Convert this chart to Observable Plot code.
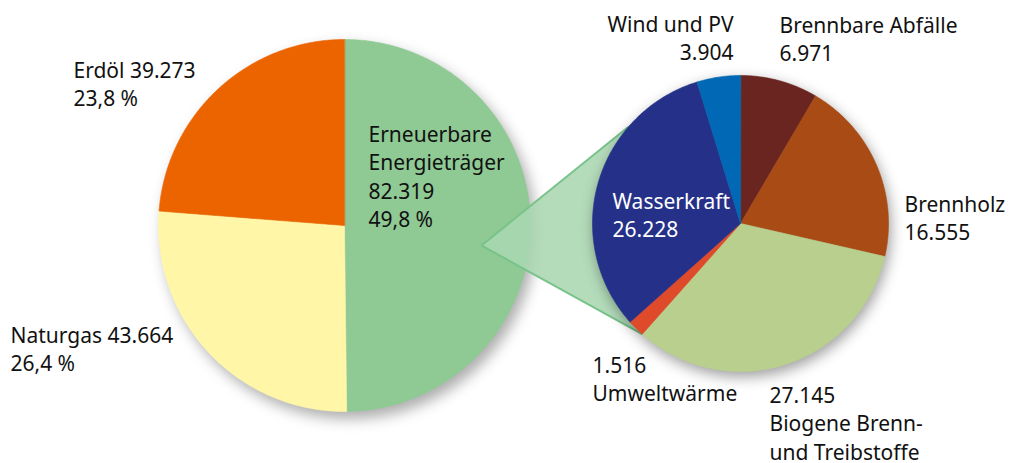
<!DOCTYPE html>
<html><head><meta charset="utf-8">
<script src="https://cdn.jsdelivr.net/npm/d3@7"></script>
<script src="https://cdn.jsdelivr.net/npm/@observablehq/plot@0.6"></script>
<style>
html,body{margin:0;padding:0;background:#fff;}
#chart svg{display:block;}
</style></head><body><div id="chart"></div>
<script>
// ---- data ----
const mainCategories = ["Erneuerbare Energieträger", "Naturgas", "Erdöl"];
const mainLabelNames = ["Erneuerbare\nEnergieträger", "Naturgas", "Erdöl"];
const mainValues = [82319, 43664, 39273];
const mainColors = ["#8fc994", "#fff6a8", "#ec6400"];

const renewCategories = ["Brennbare Abfälle", "Brennholz", "Biogene Brenn- und Treibstoffe", "Umweltwärme", "Wasserkraft", "Wind und PV"];
const renewLabelNames = ["Brennbare Abfälle", "Brennholz", "Biogene Brenn-\nund Treibstoffe", "Umweltwärme", "Wasserkraft", "Wind und PV"];
const renewValues = [6971, 16555, 27145, 1516, 26228, 3904];
const renewColors = ["#6b2520", "#a84b14", "#b8cf8e", "#de4a2a", "#253189", "#0068b4"];

// ---- layout ----
const W = 1009, H = 463;
const leftPie = {cx: 344, cy: 225, r: 186};
const rightPie = {cx: 740, cy: 223, r: 148};
const apex = {x: 481, y: 245};
const connectorUpperAngleDeg = 311;
const FS = 21, LH = 28.5, BASE_SHIFT = 6;
const FONT = "Noto Sans";
// label layout: key -> x, first baseline, anchor, arrangement, colour
const labelLayout = [
  {cat: "Erdöl", x: 73, b: 78, anchor: "start", mode: "nameValue\nshare", fill: "#111"},
  {cat: "Naturgas", x: 10, b: 343, anchor: "start", mode: "nameValue\nshare", fill: "#111"},
  {cat: "Erneuerbare Energieträger", x: 368, b: 142, anchor: "start", mode: "name\nvalue\nshare", fill: "#111"},
  {cat: "Brennbare Abfälle", x: 779, b: 33, anchor: "start", mode: "name\nvalue", fill: "#111"},
  {cat: "Brennholz", x: 904, b: 212, anchor: "start", mode: "name\nvalue", fill: "#111"},
  {cat: "Biogene Brenn- und Treibstoffe", x: 769, b: 403, anchor: "start", mode: "value\nname", fill: "#111"},
  {cat: "Umweltwärme", x: 592, b: 373, anchor: "start", mode: "value\nname", fill: "#111"},
  {cat: "Wasserkraft", x: 612, b: 209, anchor: "start", mode: "name\nvalue", fill: "#fff"},
  {cat: "Wind und PV", x: 733, b: 32, anchor: "end", mode: "name\nvalue", fill: "#111"}
];

const de = d3.formatLocale({decimal: ",", thousands: ".", grouping: [3], currency: ["", " €"]});
const fmtInt = de.format(",d");
const fmtPct = de.format(".1f");

function slicePoints(cats, vals, c) {
  const arcs = d3.pie().sort(null).value(d => d)(vals);
  const pts = [];
  arcs.forEach((p, i) => {
    const n = Math.max(2, Math.ceil((p.endAngle - p.startAngle) / 0.01));
    pts.push({k: cats[i], x: c.cx, y: c.cy});
    for (let j = 0; j <= n; j++) {
      const a = p.startAngle + (p.endAngle - p.startAngle) * j / n;
      pts.push({k: cats[i], x: c.cx + c.r * Math.sin(a), y: c.cy - c.r * Math.cos(a)});
    }
  });
  return {pts, arcs};
}

const left = slicePoints(mainCategories, mainValues, leftPie);
const right = slicePoints(renewCategories, renewValues, rightPie);

// connector: apex -> upper point on right circle; apex -> end of Biogene slice
const biogeneIdx = renewCategories.indexOf("Biogene Brenn- und Treibstoffe");
const lowerAngle = right.arcs[biogeneIdx].endAngle;
const upperAngle = connectorUpperAngleDeg * Math.PI / 180;
const onRight = a => ({x: rightPie.cx + rightPie.r * Math.sin(a), y: rightPie.cy - rightPie.r * Math.cos(a)});
const up = onRight(upperAngle), lo = onRight(lowerAngle);
const connector = [apex, up, lo];
const connectorLines = [
  {x1: apex.x, y1: apex.y, x2: up.x, y2: up.y},
  {x1: apex.x, y1: apex.y, x2: lo.x, y2: lo.y}
];

// label texts
const mainTotal = d3.sum(mainValues);
function labelText(L) {
  let name, value, share = "";
  let i = mainCategories.indexOf(L.cat);
  if (i >= 0) {
    name = mainLabelNames[i]; value = fmtInt(mainValues[i]);
    share = fmtPct(mainValues[i] / mainTotal * 100) + " %";
  } else {
    i = renewCategories.indexOf(L.cat);
    name = renewLabelNames[i]; value = fmtInt(renewValues[i]);
  }
  return L.mode.replace("nameValue", name + " " + value).replace("name", name).replace("value", value).replace("share", share);
}
const labels = labelLayout.map(L => ({...L, text: labelText(L), y: L.b - 0.71 * FS - BASE_SHIFT}));

const textMarks = labels.map(L => Plot.text([L], {
  x: "x", y: "y", text: "text", textAnchor: L.anchor, lineAnchor: "top",
  fontSize: FS, lineHeight: LH / FS, fontFamily: FONT, fill: L.fill
}));

const chart = Plot.plot({
  width: W, height: H, margin: 0,
  style: {fontFamily: FONT, background: "#fff", overflow: "visible"},
  x: {domain: [0, W], range: [0, W], axis: null},
  y: {domain: [0, H], range: [0, H], axis: null},
  color: {domain: [...mainCategories, ...renewCategories], range: [...mainColors, ...renewColors]},
  marks: [
    Plot.line(left.pts, {x: "x", y: "y", z: "k", fill: "k", stroke: "k", strokeWidth: 0.6, curve: "linear-closed"}),
    Plot.line(connector, {x: "x", y: "y", fill: "#aad7b2", fillOpacity: 0.88, stroke: "none", curve: "linear-closed"}),
    Plot.link(connectorLines, {x1: "x1", y1: "y1", x2: "x2", y2: "y2", stroke: "#78c38a", strokeWidth: 2}),
    Plot.line(right.pts, {x: "x", y: "y", z: "k", fill: "k", stroke: "k", strokeWidth: 0.6, curve: "linear-closed"}),
    ...textMarks
  ]
});

const groups = chart.querySelectorAll('g[aria-label="line"]');
if (groups[0]) groups[0].style.filter = "drop-shadow(5px 7px 7px rgba(0,0,0,0.32))";
if (groups[2]) groups[2].style.filter = "drop-shadow(2px 5px 7px rgba(0,0,0,0.38))";
document.getElementById("chart").appendChild(chart);
</script>
</body></html>
